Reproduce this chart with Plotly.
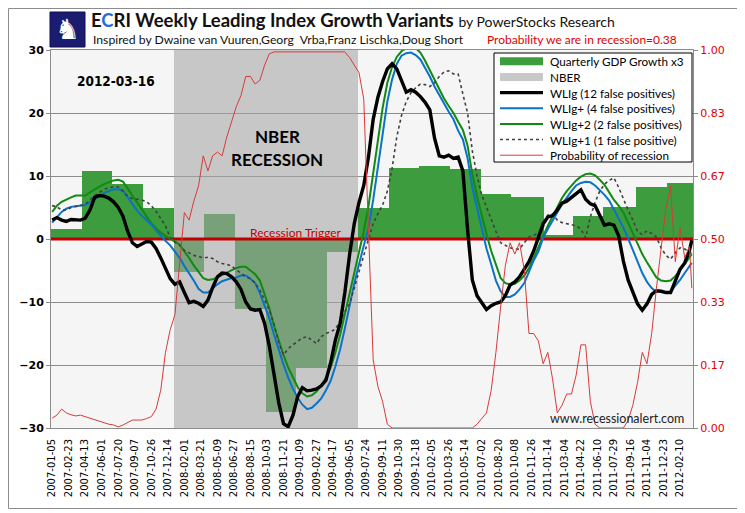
import pandas as pd
import plotly.graph_objects as go

# ---------------- data ----------------
FIRST_WEEK = "2007-01-05"
N_WEEKS = 272
WEEKS = pd.date_range(FIRST_WEEK, periods=N_WEEKS, freq="7D")
# series every two weeks (plus the final week)
SAMPLE_IDX = list(range(0, N_WEEKS - 1, 2)) + [N_WEEKS - 1]
SAMPLE_DATES = WEEKS[SAMPLE_IDX]

TICK_LABELS = [
    "2007-01-05", "2007-02-23", "2007-04-13", "2007-06-01", "2007-07-20", "2007-09-07",
    "2007-10-26", "2007-12-14", "2008-02-01", "2008-03-21", "2008-05-09", "2008-06-27",
    "2008-08-15", "2008-10-03", "2008-11-21", "2009-01-09", "2009-02-27", "2009-04-17",
    "2009-06-05", "2009-07-24", "2009-09-11", "2009-10-30", "2009-12-18", "2010-02-05",
    "2010-03-26", "2010-05-14", "2010-07-02", "2010-08-20", "2010-10-08", "2010-11-26",
    "2011-01-14", "2011-03-04", "2011-04-22", "2011-06-10", "2011-07-29", "2011-09-16",
    "2011-11-04", "2011-12-23", "2012-02-10",
]

GDP_QUARTERS = ["2007Q1", "2007Q2", "2007Q3", "2007Q4", "2008Q1", "2008Q2", "2008Q3",
                "2008Q4", "2009Q1", "2009Q2", "2009Q3", "2009Q4", "2010Q1", "2010Q2",
                "2010Q3", "2010Q4", "2011Q1", "2011Q2", "2011Q3", "2011Q4", "2012Q1"]
GDP_X3 = [1.6, 10.8, 8.7, 4.9, -5.3, 4.0, -11.1, -27.5, -20.4, -2.0, 4.9, 11.2, 11.6,
          11.1, 7.2, 6.7, 0.7, 3.6, 5.1, 8.2, 8.9]

NBER_FIRST_WEEK = "2008-01-04"
NBER_LAST_WEEK = "2009-06-26"

WLIG = [3.0, 3.4, 3.0, 2.8, 3.1, 3.1, 3.0, 3.3, 4.6, 6.6, 6.9, 6.8, 6.5, 5.9, 5.0, 3.6,
        1.2, -0.6, -1.2, -0.8, -0.4, -0.5, -1.5, -3.0, -4.6, -6.3, -7.2, -6.8, -8.5, -10.1,
        -9.9, -10.2, -10.7, -9.7, -7.7, -6.0, -5.4, -5.5, -6.0, -6.8, -8.0, -10.0, -11.1,
        -11.3, -11.2, -13.4, -17.0, -21.8, -26.0, -29.3, -29.8, -28.0, -25.0, -23.6, -24.1,
        -24.0, -23.8, -23.3, -22.4, -19.6, -16.0, -13.4, -8.5, -2.5, 2.5, 5.8, 8.5, 13.0,
        19.0, 22.5, 25.0, 27.0, 27.8, 27.0, 25.2, 23.3, 23.7, 23.3, 22.6, 21.7, 20.5, 16.0,
        13.2, 13.0, 13.3, 12.8, 13.0, 10.8, 1.5, -6.5, -9.0, -10.0, -11.2, -10.6, -10.2,
        -10.0, -9.0, -7.3, -6.8, -6.0, -4.9, -3.6, -1.9, 0.2, 2.4, 3.5, 3.7, 4.6, 5.7, 6.0,
        6.6, 7.3, 7.8, 6.3, 5.6, 5.3, 3.8, 2.2, 2.4, 2.2, 0.5, -3.5, -6.5, -8.5, -10.3,
        -11.3, -10.3, -8.8, -8.2, -8.3, -8.5, -8.5, -6.6, -4.8, -3.8, -1.8, -0.2]

WLIG_PLUS = [2.6, 3.5, 4.3, 4.8, 5.1, 5.2, 5.3, 5.4, 5.8, 6.3, 6.9, 7.3, 7.6, 7.9, 7.9, 7.7,
             6.6, 5.5, 4.5, 3.7, 3.0, 2.3, 1.4, 0.5, -0.3, -1.0, -2.0, -3.0, -4.3, -5.4,
             -6.6, -7.9, -8.5, -8.5, -7.8, -7.2, -6.7, -6.4, -6.2, -6.1, -5.8, -5.8, -6.3,
             -7.0, -8.6, -10.6, -12.6, -15.2, -17.6, -19.9, -22.0, -23.8, -25.2, -26.3,
             -27.0, -26.8, -26.1, -25.3, -24.0, -22.5, -20.2, -17.5, -14.2, -10.6, -7.0,
             -4.0, -1.2, 1.8, 6.2, 11.2, 16.6, 21.8, 25.3, 27.8, 29.1, 29.5, 29.6, 29.2,
             28.5, 27.2, 25.8, 24.2, 22.8, 21.4, 20.2, 19.0, 17.2, 15.8, 12.8, 8.2, 4.8,
             1.5, -1.5, -4.0, -6.6, -8.3, -9.2, -9.2, -8.8, -8.0, -7.0, -5.2, -3.4, -2.0,
             0.2, 1.6, 3.0, 4.2, 5.5, 6.6, 7.6, 8.5, 8.9, 9.1, 9.0, 8.5, 7.8, 7.0, 6.1, 4.7,
             3.4, 1.8, 0.1, -1.8, -3.6, -5.4, -6.8, -7.8, -8.4, -8.3, -8.4, -8.4, -7.4,
             -6.5, -5.4, -4.3, -3.8]

WLIG_PLUS2 = [4.3, 5.3, 5.9, 6.3, 6.6, 6.9, 6.9, 6.9, 7.4, 7.9, 8.3, 8.7, 9.0, 9.3, 9.4,
              9.1, 8.0, 6.9, 5.8, 4.7, 3.6, 2.5, 1.7, 1.0, 0.5, 0.1, -0.4, -0.9, -1.9, -3.0,
              -4.2, -5.3, -6.2, -6.5, -6.4, -6.1, -5.7, -5.3, -4.9, -4.6, -4.4, -4.4, -5.0,
              -5.6, -6.6, -8.8, -11.0, -13.8, -16.2, -18.4, -20.4, -22.0, -23.5, -24.5,
              -25.0, -24.8, -24.2, -23.3, -22.0, -20.4, -18.0, -15.2, -12.0, -8.8, -5.5,
              -2.2, 1.2, 5.2, 10.2, 15.5, 20.8, 24.8, 27.3, 28.9, 29.8, 30.3, 30.5, 30.3,
              29.6, 28.3, 26.8, 25.1, 23.7, 22.3, 21.1, 20.0, 18.6, 17.3, 14.8, 10.3, 6.8,
              3.6, 0.8, -1.9, -4.2, -6.2, -7.0, -7.2, -7.1, -6.6, -5.8, -4.6, -3.0, -1.4,
              0.4, 2.1, 3.6, 5.1, 6.5, 7.6, 8.5, 9.3, 9.9, 10.3, 10.4, 10.1, 9.4, 8.6, 7.4,
              6.2, 5.3, 4.2, 2.6, 0.9, -0.8, -2.4, -3.7, -5.0, -6.1, -6.6, -6.7, -6.6, -5.9,
              -5.0, -4.0, -3.0, -2.4]

WLIG_PLUS1 = [5.3, 5.1, 4.6, 4.6, 5.0, 5.2, 5.3, 5.5, 6.2, 6.9, 7.4, 7.9, 8.1, 8.3, 8.3,
              7.6, 6.8, 6.4, 6.3, 6.2, 5.9, 5.3, 4.4, 3.3, 2.1, 0.2, -0.5, -1.0, -1.8, -2.2,
              -2.6, -2.8, -3.0, -2.9, -3.1, -3.6, -3.9, -4.0, -4.3, -4.9, -5.4, -6.0, -6.3,
              -7.0, -8.1, -9.6, -11.3, -13.5, -16.5, -18.4, -17.4, -16.8, -16.2, -15.7,
              -15.5, -16.0, -16.6, -15.5, -15.0, -14.7, -14.3, -13.0, -11.5, -10.3, -7.8,
              -5.0, -2.5, -0.1, 2.5, 4.0, 5.4, 7.6, 11.2, 16.2, 19.6, 21.8, 23.2, 24.0, 24.6,
              24.5, 24.2, 24.8, 25.8, 26.5, 26.7, 26.2, 26.2, 23.0, 20.0, 14.0, 10.0, 7.0,
              5.0, 3.0, 1.2, -0.6, -1.0, -1.4, -1.6, -1.6, -0.6, 0.3, 0.6, 0.9, 1.8, 3.8, 4.0,
              3.0, 2.6, 2.4, 2.3, 2.1, 1.6, 0.2, 3.5, 5.8, 7.6, 8.7, 9.3, 9.7, 8.2, 6.3, 4.6,
              3.0, 1.2, 0.7, 1.3, 0.9, 0.3, -1.4, -2.6, -3.2, -2.2, -1.4, -1.6, -2.0, -2.4]

PROB_RECESSION = [0.026, 0.034, 0.05, 0.04, 0.035, 0.032, 0.034, 0.03, 0.026, 0.02, 0.017,
                  0.012, 0.01, 0.008, 0.003, 0.008, 0.015, 0.021, 0.021, 0.021, 0.025, 0.03,
                  0.05, 0.1, 0.2, 0.26, 0.30, 0.43, 0.57, 0.55, 0.6, 0.64, 0.72, 0.68, 0.72,
                  0.73, 0.72, 0.77, 0.81, 0.85, 0.88, 0.93, 0.93, 0.91, 0.92, 0.96, 0.99,
                  0.995, 0.995, 0.995, 0.995, 0.995, 0.995, 0.995, 0.995, 0.995, 0.995,
                  0.995, 0.995, 0.995, 0.995, 0.995, 0.995, 0.98, 0.96, 0.94, 0.87, 0.55,
                  0.18, 0.11, 0.07, 0.01, 0.0, 0.0, 0.0, 0.0, 0.0, 0.0, 0.0, 0.0, 0.0, 0.0,
                  0.0, 0.0, 0.0, 0.0, 0.0, 0.0, 0.0, 0.0, 0.01, 0.025, 0.04, 0.10, 0.20, 0.32,
                  0.43, 0.49, 0.46, 0.49, 0.42, 0.25, 0.25, 0.23, 0.17, 0.2, 0.13, 0.04, 0.06,
                  0.09, 0.09, 0.14, 0.22, 0.22, 0.07, 0.01, 0.0, 0.0, 0.0, 0.0, 0.0, 0.0,
                  0.02, 0.06, 0.12, 0.2, 0.17, 0.25, 0.37, 0.47, 0.58, 0.64, 0.44, 0.53, 0.45,
                  0.48, 0.37]

TRIGGER_LEVEL = 0
PROB_TICKS = [0, 1 / 6, 2 / 6, 3 / 6, 4 / 6, 5 / 6, 1]
PROB_TICK_LABELS = ["0.00", "0.17", "0.33", "0.50", "0.67", "0.83", "1.00"]
Y_MIN, Y_MAX = -30, 30

# ---------------- layout geometry ----------------
# the exported page has the browser's default 8px body margin, so the figure
# is made 8px smaller and all page positions are measured from the page origin
OFF = 8
W, H = 745 - OFF, 513 - OFF
PL, PT, PR, PB = 51, 50, 693, 428          # plot area in page pixels
ML, MT = PL - OFF, PT - OFF
MR, MB = W - (PR - OFF), H - (PB - OFF)
PW, PH = PR - PL, PB - PT
HALF_WEEK = pd.Timedelta(days=3.5)
DAY_MS = 86400000


def px(x):
    return (x - PL) / PW


def py(y):
    return (PB - y) / PH


GREEN_BAR = "#3d9c3d"
NBER_GRAY = "rgba(165,165,165,0.58)"
GRID = "#8c8c8c"

fig = go.Figure()

# quarterly GDP bars spanning their weeks
gx, gw = [], []
qper = WEEKS.to_period("Q")
for q in GDP_QUARTERS:
    wk = WEEKS[qper == pd.Period(q)]
    gx.append(wk[0])
    gw.append(len(wk) * 7 * DAY_MS)
fig.add_trace(go.Bar(x=gx, y=GDP_X3, width=gw, offset=-3.5 * DAY_MS,
                     marker=dict(color=GREEN_BAR, line=dict(width=0)),
                     name="Quarterly GDP Growth x3", showlegend=False))

# NBER recession band
nb0, nb1 = pd.Timestamp(NBER_FIRST_WEEK), pd.Timestamp(NBER_LAST_WEEK)
fig.add_trace(go.Bar(x=[nb0], y=[Y_MAX - Y_MIN], base=[Y_MIN],
                     width=[(nb1 - nb0).days * DAY_MS + 7 * DAY_MS], offset=-3.5 * DAY_MS,
                     marker=dict(color=NBER_GRAY, line=dict(width=0)),
                     name="NBER", showlegend=False))

# recession trigger line
fig.add_trace(go.Scatter(x=[WEEKS[0] - HALF_WEEK, WEEKS[-1] + HALF_WEEK],
                         y=[TRIGGER_LEVEL, TRIGGER_LEVEL], mode="lines",
                         line=dict(color="#c00000", width=3.2), showlegend=False,
                         name="Recession Trigger", hoverinfo="skip"))

fig.add_trace(go.Scatter(x=SAMPLE_DATES, y=WLIG_PLUS2, mode="lines",
                         line=dict(color="#118a11", width=2),
                         name="WLIg+2 (2 false positives)", showlegend=False))
fig.add_trace(go.Scatter(x=SAMPLE_DATES, y=WLIG_PLUS, mode="lines",
                         line=dict(color="#0a72c8", width=2),
                         name="WLIg+ (4 false positives)", showlegend=False))
fig.add_trace(go.Scatter(x=SAMPLE_DATES, y=WLIG_PLUS1, mode="lines",
                         line=dict(color="#404040", width=1.6, dash="dot"),
                         name="WLIg+1 (1 false positive)", showlegend=False))
fig.add_trace(go.Scatter(x=SAMPLE_DATES, y=WLIG, mode="lines",
                         line=dict(color="#000000", width=3.4),
                         name="WLIg (12 false positives)", showlegend=False))
fig.add_trace(go.Scatter(x=SAMPLE_DATES, y=PROB_RECESSION, mode="lines", yaxis="y2",
                         line=dict(color="#d83a3a", width=1),
                         name="Probability of recession", showlegend=False))

tick_dates = [pd.Timestamp(t) for t in TICK_LABELS]

fig.update_layout(
    width=W, height=H,
    margin=dict(l=ML, r=MR, t=MT, b=MB, autoexpand=False),
    paper_bgcolor="white", plot_bgcolor="#f5f5f5",
    barmode="overlay", bargap=0,
    showlegend=False,
    xaxis=dict(type="date", range=[WEEKS[0] - HALF_WEEK, WEEKS[-1] + HALF_WEEK],
               tickvals=tick_dates, ticktext=TICK_LABELS, tickangle=-90,
               tickfont=dict(family="DejaVu Sans", size=10, color="black"),
               showgrid=False, zeroline=False, showline=True, linecolor=GRID,
               mirror=True, ticks="", automargin=False, ticklabelstandoff=6),
    yaxis=dict(range=[Y_MIN, Y_MAX], tickvals=[-30, -20, -10, 0, 10, 20, 30],
               showgrid=True, gridcolor=GRID, gridwidth=1, zeroline=False,
               showline=True, linecolor=GRID, ticks="outside", ticklen=4,
               tickcolor=GRID, automargin=False,
               tickfont=dict(family="DejaVu Sans", size=11, color="black", weight="bold")),
    yaxis2=dict(range=[0, 1], overlaying="y", side="right", tickvals=PROB_TICKS,
                ticktext=PROB_TICK_LABELS, showgrid=False, zeroline=False,
                showline=True, linecolor=GRID, ticks="outside", ticklen=4,
                tickcolor=GRID, automargin=False,
                tickfont=dict(family="DejaVu Sans", size=11, color="#e00000")),
)

shapes = []
ann = []

# outer border of the whole picture
shapes.append(dict(type="rect", xref="paper", yref="paper", x0=px(OFF + 0.5), x1=px(742.5),
                   y0=py(508.5), y1=py(OFF + 0.5), line=dict(color="#8c8c8c", width=1),
                   layer="above"))

# logo
shapes.append(dict(type="rect", xref="paper", yref="paper", x0=px(50), x1=px(85),
                   y0=py(47), y1=py(12), fillcolor="#1b1b70",
                   line=dict(color="#0f0f50", width=1), layer="above"))
ann.append(dict(text="♞", x=px(67.5), y=py(30), xref="paper", yref="paper",
                showarrow=False, font=dict(family="DejaVu Sans", size=28, color="white"),
                xanchor="center", yanchor="middle"))

# titles
ann.append(dict(text="<b>E<span style='color:#1f6fd6'>C</span>RI Weekly Leading Index Growth Variants</b>"
                     " <span style='font-size:14px'>by PowerStocks Research</span>",
                x=px(89), y=py(20), xref="paper", yref="paper", showarrow=False,
                xanchor="left", yanchor="middle",
                font=dict(family="Lato", size=18.5, color="#111111")))
ann.append(dict(text="Inspired by Dwaine van Vuuren,Georg  Vrba,Franz Lischka,Doug Short",
                x=px(91), y=py(40), xref="paper", yref="paper", showarrow=False,
                xanchor="left", yanchor="middle",
                font=dict(family="Lato", size=12.2, color="#111111")))
ann.append(dict(text="Probability we are in recession=0.38",
                x=px(485), y=py(40), xref="paper", yref="paper", showarrow=False,
                xanchor="left", yanchor="middle",
                font=dict(family="Lato", size=12, color="#e00000")))

# in-plot labels
ann.append(dict(text="<b>2012-03-16</b>", x=px(116), y=py(81), xref="paper", yref="paper",
                showarrow=False, xanchor="center", yanchor="middle",
                font=dict(family="DejaVu Sans Condensed, sans-serif",
                          size=13.5, color="black")))
ann.append(dict(text="<b>NBER</b>", x=px(277), y=py(136), xref="paper", yref="paper",
                showarrow=False, xanchor="center", yanchor="middle",
                font=dict(family="Lato", size=17, color="black")))
ann.append(dict(text="<b>RECESSION</b>", x=px(277), y=py(159), xref="paper", yref="paper",
                showarrow=False, xanchor="center", yanchor="middle",
                font=dict(family="Lato", size=17, color="black")))
ann.append(dict(text="Recession Trigger", x=px(296), y=py(232), xref="paper", yref="paper",
                showarrow=False, xanchor="center", yanchor="middle",
                font=dict(family="Lato", size=12, color="#c00000")))
ann.append(dict(text="www.recessionalert.com", x=px(617), y=py(418), xref="paper",
                yref="paper", showarrow=False, xanchor="center", yanchor="middle",
                font=dict(family="Lato", size=12.5, color="#222222")))

# hand-built legend
LEG_X0, LEG_X1, LEG_Y0, LEG_Y1 = 494, 692, 53, 162
shapes.append(dict(type="rect", xref="paper", yref="paper", x0=px(LEG_X0), x1=px(LEG_X1),
                   y0=py(LEG_Y1), y1=py(LEG_Y0), fillcolor="white",
                   line=dict(color="black", width=1), layer="above"))
legend_items = [
    ("Quarterly GDP Growth x3", "box", GREEN_BAR, 0, None),
    ("NBER", "box", "#c8c8c8", 0, None),
    ("WLIg (12 false positives)", "line", "#000000", 3.4, None),
    ("WLIg+ (4 false positives)", "line", "#0a72c8", 2, None),
    ("WLIg+2 (2 false positives)", "line", "#118a11", 2, None),
    ("WLIg+1 (1 false positive)", "line", "#404040", 1.6, "dot"),
    ("Probability of recession", "line", "#d83a3a", 1, None),
]
for k, (label, kind, col, lw, dash) in enumerate(legend_items):
    yc = 61.3 + 15.65 * k
    if kind == "box":
        shapes.append(dict(type="rect", xref="paper", yref="paper", x0=px(500), x1=px(543),
                           y0=py(yc + 4), y1=py(yc - 4), fillcolor=col,
                           line=dict(width=0), layer="above"))
    else:
        ln = dict(color=col, width=lw)
        if dash:
            ln["dash"] = dash
        shapes.append(dict(type="line", xref="paper", yref="paper", x0=px(500), x1=px(543),
                           y0=py(yc), y1=py(yc), line=ln, layer="above"))
    ann.append(dict(text=label, x=px(548), y=py(yc), xref="paper", yref="paper",
                    showarrow=False, xanchor="left", yanchor="middle",
                    font=dict(family="Lato", size=11.7, color="black")))

fig.update_layout(shapes=shapes, annotations=ann)
fig.write_html("out.html")
